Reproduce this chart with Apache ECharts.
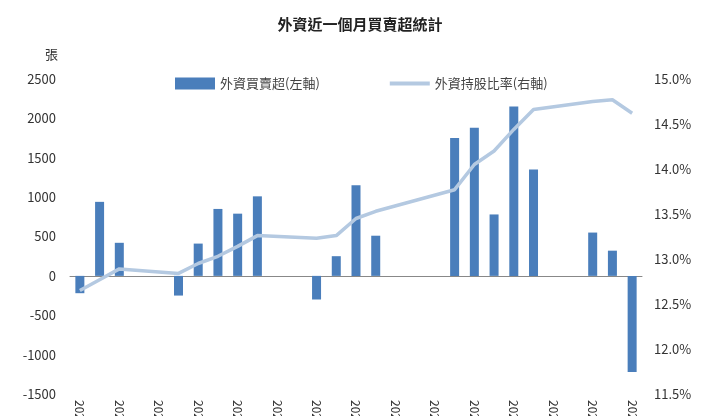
<!DOCTYPE html>
<html>
<head>
<meta charset="utf-8">
<script src="https://cdn.jsdelivr.net/npm/echarts@6/dist/echarts.min.js"></script>
<style>html,body{margin:0;padding:0;background:#fff}</style>
</head>
<body>
<div id="main" style="width:720px;height:416px;"></div>
<script>
var days = ['2022/5/18','2022/5/19','2022/5/20','2022/5/21','2022/5/22','2022/5/23','2022/5/24','2022/5/25','2022/5/26','2022/5/27','2022/5/28','2022/5/29','2022/5/30','2022/5/31','2022/6/1','2022/6/2','2022/6/3','2022/6/4','2022/6/5','2022/6/6','2022/6/7','2022/6/8','2022/6/9','2022/6/10','2022/6/11','2022/6/12','2022/6/13','2022/6/14','2022/6/15'];
var netBuy = [-220,940,420,null,null,-250,410,850,790,1010,null,null,-300,250,1150,510,null,null,null,1750,1880,780,2150,1350,null,null,550,320,-1220];
var holdPct = [12.65,12.77,12.89,null,null,12.84,12.95,13.03,13.14,13.26,null,null,13.23,13.26,13.45,13.53,null,null,null,13.77,14.05,14.2,14.44,14.66,null,null,14.75,14.77,14.62];

var myChart = echarts.init(document.getElementById('main'));
var font = '"Noto Sans CJK TC", sans-serif';
myChart.setOption({
	animation: false,
	textStyle: {fontFamily: font},
	title: {text: '外資近一個月買賣超統計', left: 'center', top: 12, textStyle: {fontSize: 15, fontWeight: 'bold', color: '#222', fontFamily: font}},
	legend: {
		top: 72, left: 170, itemGap: 70, itemWidth: 40, itemHeight: 12,
		textStyle: {fontSize: 13, color: '#444'},
		data: [{name: '外資買賣超(左軸)', icon: 'rect'}, {name: '外資持股比率(右軸)', icon: 'path://M0,0H40V4H0Z', itemHeight: 4}]
	},
	grid: {left: 70, right: 78, top: 79, bottom: 22, outerBoundsMode: 'none', containLabel: false},
	xAxis: {
		type: 'category', data: days,
		axisLine: {onZero: true, lineStyle: {color: '#888'}},
		axisTick: {alignWithLabel: true, interval: 1},
		axisLabel: {interval: 1, rotate: -90, fontSize: 12, color: '#333', margin: 6}
	},
	yAxis: [{
		type: 'value', min: -1500, max: 2500, interval: 500,
		name: '張', nameLocation: 'end', nameGap: 18,
		nameTextStyle: {align: 'right', padding: [0, 12, 0, 0], fontSize: 13, color: '#333'},
		axisLine: {show: false}, axisTick: {show: false}, splitLine: {show: false},
		axisLabel: {fontSize: 13, color: '#333', margin: 14, formatter: function (v) { return String(v); }}
	}, {
		type: 'value', min: 11.5, max: 15, interval: 0.5,
		axisLine: {show: false}, axisTick: {show: false}, splitLine: {show: false},
		axisLabel: {fontSize: 13, color: '#333', margin: 12, formatter: function (v) { return v.toFixed(1) + '%'; }}
	}],
	series: [{
		name: '外資買賣超(左軸)', type: 'bar', data: netBuy, barWidth: 9,
		itemStyle: {color: '#4a7ebb'}
	}, {
		name: '外資持股比率(右軸)', type: 'line', yAxisIndex: 1, data: holdPct,
		connectNulls: true, showSymbol: false, symbol: 'none',
		lineStyle: {color: '#b4c9e1', width: 3.5}, itemStyle: {color: '#b4c9e1'}
	}]
});
</script>
</body>
</html>
